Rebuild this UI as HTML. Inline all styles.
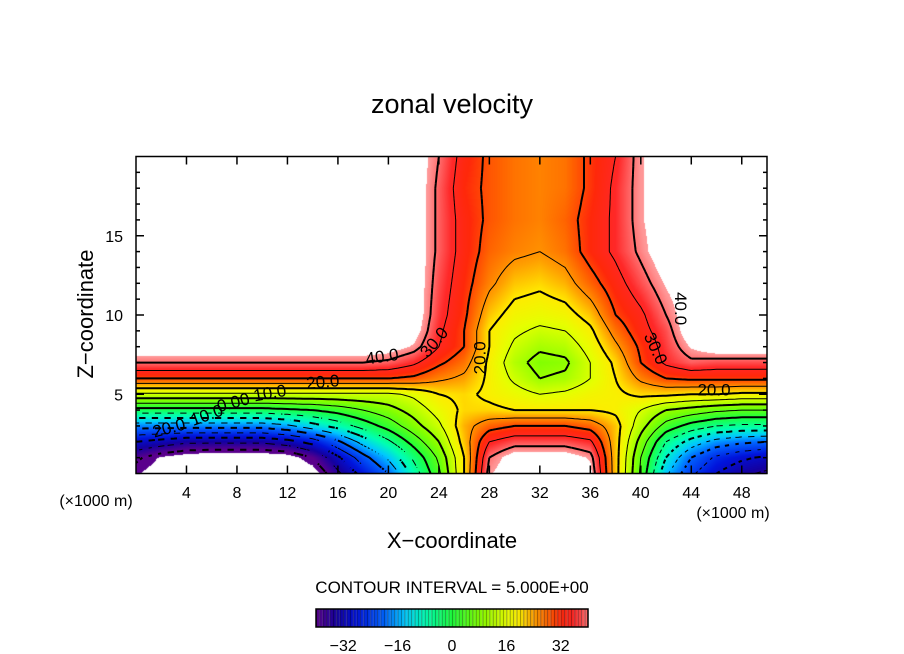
<!DOCTYPE html>
<html><head><meta charset="utf-8"><style>
html,body{margin:0;padding:0;background:#fff;}
#wrap{position:relative;width:904px;height:654px;overflow:hidden;font-family:"Liberation Sans",sans-serif;}
canvas{position:absolute;left:0;top:0;}
svg{position:absolute;left:0;top:0;}
</style></head><body>
<div id="wrap">
<canvas id="cv" width="904" height="654"></canvas>
<svg id="sv" width="904" height="654"></svg>
</div>
<script>
// ---- data ----
const xCols = [0,2,4,6,8,10,12,14,16,18,20,22,24,26,28,30,32,34,36,38,40,42,44,46,48,50];
const zRows = [0,1,2,3,4,5,6,7,8,9,10,12,14,16,18,20];
const row0  = [-42,-45,-47,-47,-47,-47,-47,-45,-36,-28,-20,-8,4,20,42,46,46,46,44,22,4,-14,-24,-30,-34,-36];
const row1  = [-39,-43,-45,-46,-46,-46,-45,-40,-31,-22,-14,-4,6,20,40,45,45,45,42,22,5,-10,-20,-26,-29,-31];
const row2  = [-30,-32,-34,-34,-34,-34,-32,-28,-21,-13,-6,2,10,22,35,38,38,38,36,22,8,-5,-12,-17,-19,-20];
const row3  = [-18,-18,-18,-18,-18,-18,-16,-12,-8,-3,2,8,14,23,28,30,30,30,28,22,12,3,-2,-5,-6,-6];
const row4  = [-2,-2,-2,-2,-2,-2,-1,0,2,5,8,12,17,21,21,20,20,20,20,19,15,10,8,6,5,5];
const row5  = [14,14,14,14,14,14,14,14,14,14,14,16,20,21,19,17,15,16,18,19,21,21,20,20,19,19];
const row6  = [30,30,30,30,30,30,30,30,30,30,30,29,26,24,19,14,10,11,15,20,26,30,31,31,31,31];
const row7  = [40,40,40,40,40,40,40,40,40,40,39,36,31,27,19,12,8,9,15,21,30,36,39,38,38,38];
const row8  = [46,46,46,46,46,46,46,46,46,46,45,42,35,30,20,14,11,12,17,24,31,37,43,46,46,46];
const row9  = [46,46,46,46,46,46,46,46,46,46,46,45,36,30,20,16,14,15,19,27,33,38,46,46,46,46];
const row10 = [46,46,46,46,46,46,46,46,46,46,46,46,37,31,22,18,17,18,22,30,34,40,46,46,46,46];
const row12 = [46,46,46,46,46,46,46,46,46,46,46,46,38,32,26,22,21,23,28,33,38,43,46,46,46,46];
const row14 = [46,46,46,46,46,46,46,46,46,46,46,46,39,33,28,26,25,27,32,36,41,46,46,46,46,46];
const row16 = [46,46,46,46,46,46,46,46,46,46,46,46,39,33,29,27,26,28,32,36,42,46,46,46,46,46];
const row18 = [46,46,46,46,46,46,46,46,46,46,46,46,39,32,29,27,26,27,31,36,42,46,46,46,46,46];
const row20 = [46,46,46,46,46,46,46,46,46,46,46,46,40,33,29,27,26,27,31,35,42,46,46,46,46,46];
const field = [row0,row1,row2,row3,row4,row5,row6,row7,row8,row9,row10,row12,row14,row16,row18,row20];
const xTicks = [4,8,12,16,20,24,28,32,36,40,44,48];
const zTicks = [5,10,15];
const cbTicks = [-32,-16,0,16,32];
const levels = [-40,-35,-30,-25,-20,-15,-10,-5,0,5,10,15,20,25,30,35,40];

// ---- axes ----
const X0=136,X1=767,Y0=473.5,Y1=156.5;
const px = x => X0 + (x-0)/(50-0)*(X1-X0);
const py = z => Y0 - (z-0)/(20-0)*(Y0-Y1);
const stops=[[-40,90,0,140],[-34,20,0,160],[-28,0,20,220],[-20,0,100,255],[-14,0,200,255],[-8,0,255,180],[0,30,255,60],[8,130,255,0],[16,230,255,0],[20,255,235,0],[24,255,160,0],[28,255,100,0],[32,255,40,10],[36,255,40,40],[42,255,150,150]];
function cmap(v){
  if(v<=stops[0][0])return stops[0].slice(1);
  for(let i=1;i<stops.length;i++){ if(v<=stops[i][0]){const a=stops[i-1],b=stops[i],t=(v-a[0])/(b[0]-a[0]);return [0,1,2].map(k=>Math.round(a[k+1]+(b[k+1]-a[k+1])*t));}}
  return stops[stops.length-1].slice(1);
}
function seg(arr,v){let i=0;while(i<arr.length-2&&v>arr[i+1])i++;return [i,(v-arr[i])/(arr[i+1]-arr[i])];}
function val(x,z){
  const [i,tx]=seg(xCols,Math.min(50,Math.max(0,x)));const [j,tz]=seg(zRows,Math.min(20,Math.max(0,z)));
  const a=field[j][i],b=field[j][i+1],c=field[j+1][i],d=field[j+1][i+1];
  return a*(1-tx)*(1-tz)+b*tx*(1-tz)+c*(1-tx)*tz+d*tx*tz;
}
// ---- fill ----
const cv=document.getElementById('cv'),ctx=cv.getContext('2d');
const img=ctx.createImageData(904,654);
for(let yy=Math.ceil(Y1);yy<Y0;yy++)for(let xx=X0;xx<X1;xx++){
  const x=(xx+0.5-X0)/(X1-X0)*50,z=(Y0-(yy+0.5))/(Y0-Y1)*20;const v=val(x,z);
  const o=(yy*904+xx)*4;let c=[255,255,255];
  if(v<=42.5&&v>=-42.5)c=cmap(v);
  img.data[o]=c[0];img.data[o+1]=c[1];img.data[o+2]=c[2];img.data[o+3]=255;
}
ctx.putImageData(img,0,0);
// colorbar
for(let v=-40;v<40;v++){
  const x0=316+(v+40)*3.4;const c=cmap(v+0.5);
  ctx.fillStyle=`rgb(${c[0]},${c[1]},${c[2]})`;ctx.fillRect(x0,609,3.4,18);
  ctx.fillStyle='rgba(0,0,0,0.55)';ctx.fillRect(x0,609,0.8,18);
}
// ---- svg ----
const NS='http://www.w3.org/2000/svg',sv=document.getElementById('sv');
function mk(tag,at,parent){const e=document.createElementNS(NS,tag);for(const k in at)e.setAttribute(k,at[k]);(parent||sv).appendChild(e);return e;}
function txt(s,x,y,size,anchor,name,extra){const t=mk('text',Object.assign({x:x,y:y,'font-size':size,'text-anchor':anchor||'middle',fill:'#000','font-family':'"Liberation Sans",sans-serif'},extra||{}));t.textContent=s;return t;}
// contours
const NX=200,NZ=160,grid=[];
for(let j=0;j<=NZ;j++){grid.push([]);for(let i=0;i<=NX;i++)grid[j].push(val(i*50/NX,j*20/NZ));}
const gclip=mk('clipPath',{id:'pc'});mk('rect',{x:X0,y:Y1,width:X1-X0,height:Y0-Y1},gclip);
const cg=mk('g',{'clip-path':'url(#pc)'});

levels.forEach(L=>{
  let d='';
  const P=(i,j)=>[px(i*50/NX),py(j*20/NZ)];
  for(let j=0;j<NZ;j++)for(let i=0;i<NX;i++){
    if(L<0 && ((i+j)%4)>1) continue; // dashed look for negative levels
    const a=grid[j][i],b=grid[j][i+1],c=grid[j+1][i+1],e=grid[j+1][i];
    const pts=[];
    const edge=(v1,v2,p1,p2)=>{if((v1<L)!==(v2<L)){const t=(L-v1)/(v2-v1);pts.push([p1[0]+(p2[0]-p1[0])*t,p1[1]+(p2[1]-p1[1])*t]);}};
    const A=P(i,j),B=P(i+1,j),C=P(i+1,j+1),E=P(i,j+1);
    edge(a,b,A,B);edge(b,c,B,C);edge(c,e,C,E);edge(e,a,E,A);
    for(let k=0;k+1<pts.length;k+=2)d+=`M${pts[k][0].toFixed(1)},${pts[k][1].toFixed(1)}L${pts[k+1][0].toFixed(1)},${pts[k+1][1].toFixed(1)}`;
  }
  if(!d)return;
  const p=mk('path',{d:d,fill:'none',stroke:'#000','stroke-width':(L%10===0)?2:1,'stroke-linecap':'butt'},cg);
  
  
});
// contour labels
const labs=[["40.0",19.5,7.4,-8],["30.0",23.6,8.3,-50],["20.0",14.8,5.8,-5],["10.0",10.6,5.1,-10],["0.00",7.7,4.5,-15],["10.0",5.6,3.7,-20],["20.0",2.6,2.9,-15],["20.0",27.2,7.3,-90],["30.0",41.2,7.9,65],["40.0",43.2,10.4,90],["20.0",45.8,5.3,0]];
labs.forEach(l=>{const x=px(l[1]),y=py(l[2]);txt(l[0],x,y+6,17,'middle','contour-label',{transform:`rotate(${l[3]} ${x} ${y})`});});
// box & ticks
mk('rect',{x:X0,y:Y1,width:X1-X0,height:Y0-Y1,fill:'none',stroke:'#000','stroke-width':1.5,});
const tg=mk('g',{stroke:'#000','stroke-width':1.5,});
xTicks.forEach(t=>{mk('line',{x1:px(t),x2:px(t),y1:Y0,y2:Y0-8},tg);mk('line',{x1:px(t),x2:px(t),y1:Y1,y2:Y1+8},tg);txt(String(t),px(t),498,16,'middle','x-tick-label');});
for(let z=1;z<20;z++){const L=z%5===0?8:4;mk('line',{x1:X0,x2:X0+L,y1:py(z),y2:py(z)},tg);mk('line',{x1:X1,x2:X1-L,y1:py(z),y2:py(z)},tg);}
zTicks.forEach(t=>txt(String(t),123,py(t)+6,16,'end','y-tick-label'));
txt('(×1000 m)',96,506,16,'middle','x-unit-left');
txt('(×1000 m)',733,518,16,'middle','x-unit-right');
txt('zonal velocity',452,113,27,'middle','chart-title');
txt('X−coordinate',452,548,22,'middle','x-axis-title');
txt('Z−coordinate',93,314,22,'middle','y-axis-title',{transform:'rotate(-90 93 314)'});
txt('CONTOUR INTERVAL = 5.000E+00',452,593,17,'middle','contour-interval-note');
mk('rect',{x:316,y:609,width:272,height:18,fill:'none',stroke:'#000','stroke-width':1.5,});
cbTicks.forEach(t=>txt(t<0?'−'+(-t):String(t),316+(t+40)*3.4,651,16,'middle','colorbar-label'));
</script>
</body></html>
